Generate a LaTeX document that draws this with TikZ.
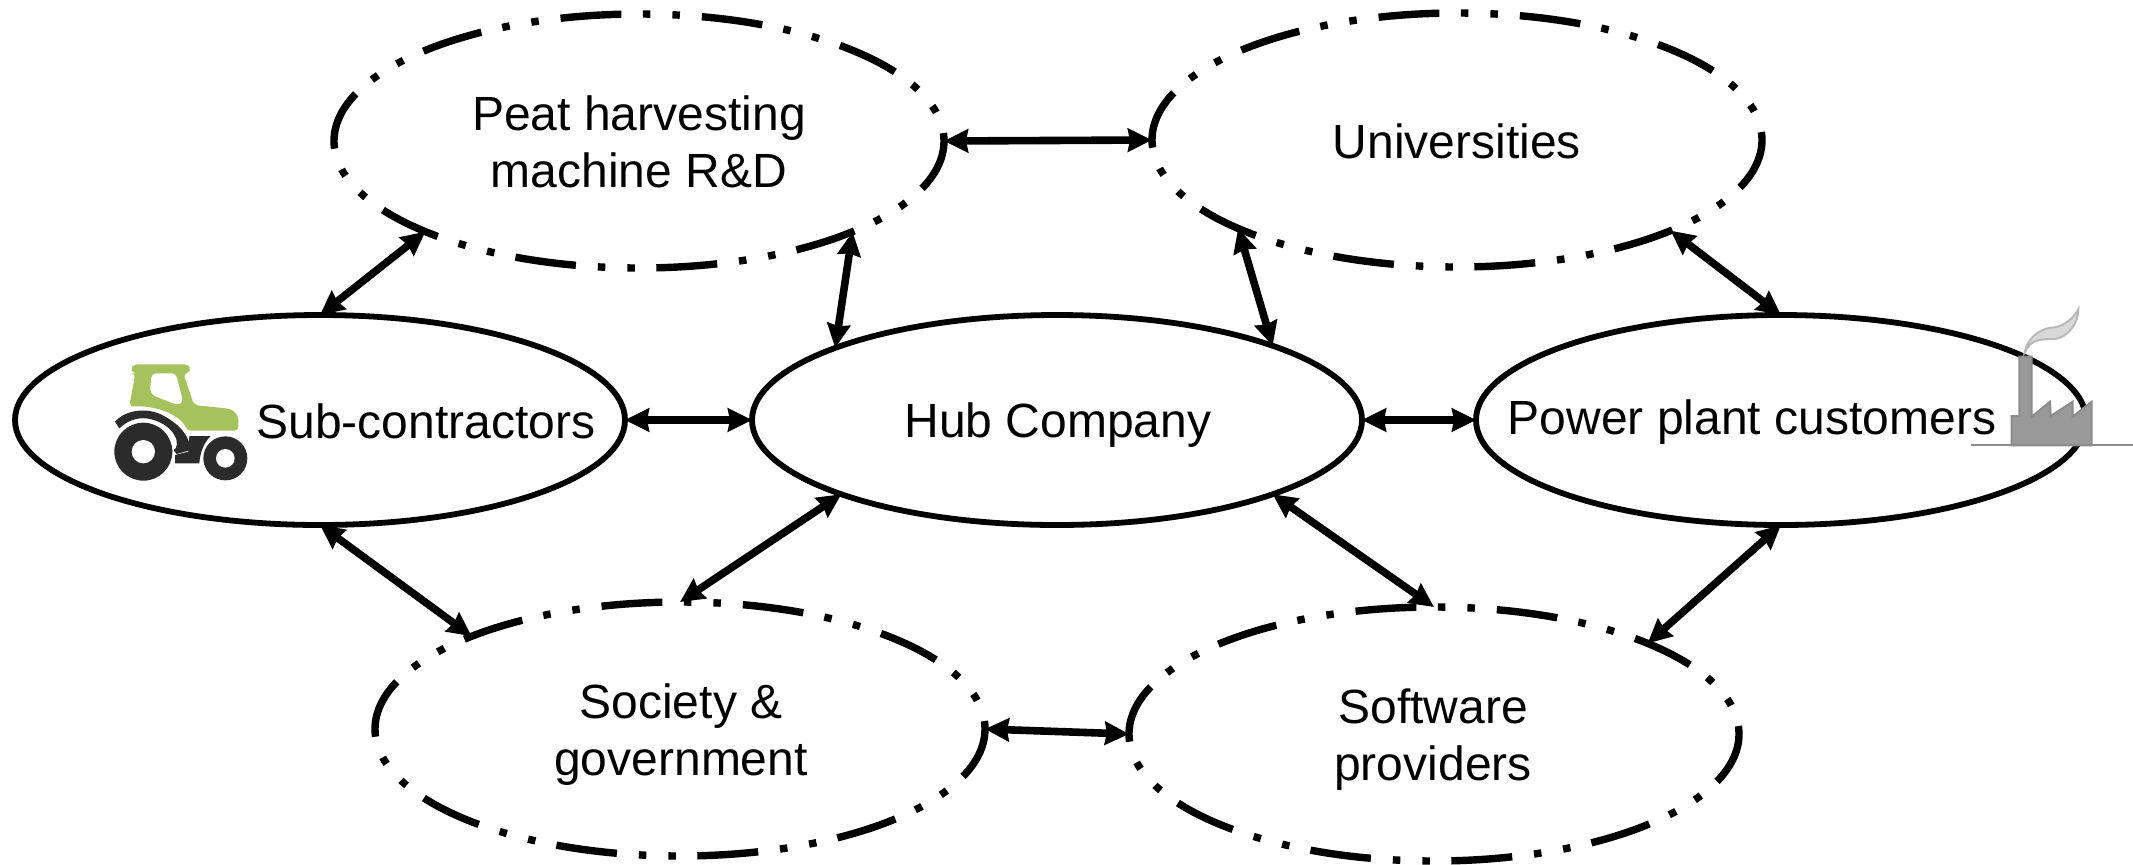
\documentclass[tikz,border=0pt]{standalone}
\usepackage{fontspec}
\setmainfont{Liberation Sans}
\usetikzlibrary{shapes.geometric,arrows.meta}
\definecolor{tractorgreen}{HTML}{A5C25C}
\definecolor{tractordark}{HTML}{2B2B2B}
\definecolor{factorygray}{HTML}{999999}
\definecolor{factoryedge}{HTML}{8C8C8C}
\tikzset{
  solidell/.style={ellipse,draw=black,line width=2.9pt,inner sep=0pt,outer sep=0pt,minimum width=305pt,minimum height=105pt},
  dashell/.style={ellipse,draw=black,line width=3.7pt,inner sep=0pt,outer sep=0pt,minimum width=305pt,minimum height=127pt,
    dash pattern=on 30.5pt off 11pt on 3.75pt off 11pt on 3.75pt off 10.75pt,dash phase=26.5pt},
  lab/.style={font=\fontsize{24}{28.5}\selectfont,align=center,inner sep=0pt},
  link/.style={line width=3.8pt,{Stealth[length=12pt,width=11.5pt,inset=1pt]}-{Stealth[length=12pt,width=11.5pt,inset=1pt]}}
}
\begin{document}
\begin{tikzpicture}[x=0.5pt,y=-0.5pt]
\useasboundingbox (0,0) rectangle (2133,864);
\node[dashell] (peat) at (639,141) {};
\node[dashell] (univ) at (1457,140) {};
\node[dashell] (soc) at (680,729) {};
\node[dashell] (soft) at (1434,734) {};
\node[solidell] (hub) at (1057,420) {};
\node[solidell] (sub) at (320,420) {};
\node[solidell] (pow) at (1781,420) {};
\node[lab] (peatt) at (639,142) {Peat harvesting\\machine R\&D};
\node[lab] (univt) at (1457,141) {Universities};
\node[lab] (hubt) at (1058,425) {Hub Company};
\node[lab] (subt) at (426,421) {Sub-contractors};
\node[lab] (powt) at (1752,422) {Power plant customers};
\node[lab] (soct) at (681,735) {Society \&\\government};
\node[lab] (softt) at (1433,740) {Software\\providers};
\draw[link] (peat.east) -- (univ.west);
\draw[link] (sub.north) -- (peat.203.2);
\draw[link] (peat.337.8) -- (hub.162);
\draw[link] (univ.202.8) -- (hub.19.6);
\draw[link] (univ.337.3) -- (pow.north);
\draw[link] (sub.east) -- (hub.west);
\draw[link] (hub.east) -- (pow.west);
\draw[link] (sub.south) -- (soc.156.9);
\draw[link] (hub.199.4) -- (soc.north);
\draw[link] (hub.341) -- (soft.north);
\draw[link] (pow.south) -- (soft.23.1);
\draw[link] (soc.east) -- (soft.west);
% tractor
\begin{scope}[shift={(80,340)},x=0.16667pt,y=-0.16667pt]
\fill[tractorgreen,even odd rule,rounded corners=2pt]
  (155,85) -- (160,73) -- (325,73) -- (330,85) -- (328,100) -- (310,100) -- (342,195) -- (455,207) -- (475,228) -- (475,272) -- (322,272)
  .. controls (300,225) and (230,195) .. (148,200) -- (166,100) -- (156,100) -- cycle
  (215,100) -- (288,100) -- (310,188) -- (292,195) -- (215,165) -- (210,150) -- cycle;
\fill[tractordark] (190,335) circle[radius=87];
\fill[white] (190,335) circle[radius=35];
\fill[tractordark] (436,355) circle[radius=66];
\fill[white] (436,355) circle[radius=28];
\fill[tractordark] (105,245) .. controls (130,215) and (190,200) .. (240,222)
  .. controls (290,245) and (330,285) .. (332,330) -- (290,342) -- (280,330)
  .. controls (305,322) and (290,250) .. (200,235) .. controls (165,232) and (140,245) .. (118,265) -- cycle;
\fill[tractordark] (328,288) -- (392,288) .. controls (370,310) and (360,340) .. (358,370) -- (285,370) -- (285,345) -- (325,335) -- cycle;
\end{scope}
% factory
\begin{scope}[shift={(1940,290)},x=0.16667pt,y=-0.16667pt]
\filldraw[fill=black!15,draw=black!28,line width=1pt] (255,185) .. controls (265,135) and (310,112) .. (345,112)
  .. controls (375,105) and (400,85) .. (415,58) .. controls (415,100) and (385,140) .. (345,147)
  .. controls (305,148) and (275,145) .. (255,185) -- cycle;
\filldraw[fill=factorygray,draw=factoryedge,line width=1pt] (215,466) -- (215,378) -- (238,378) -- (238,200) -- (275,200) -- (275,380)
  -- (330,335) -- (332,378) -- (398,335) -- (398,380) -- (455,335) -- (455,466) -- cycle;
\draw[factoryedge,line width=1pt] (93,466) -- (579,466);
\end{scope}
\end{tikzpicture}
\end{document}
